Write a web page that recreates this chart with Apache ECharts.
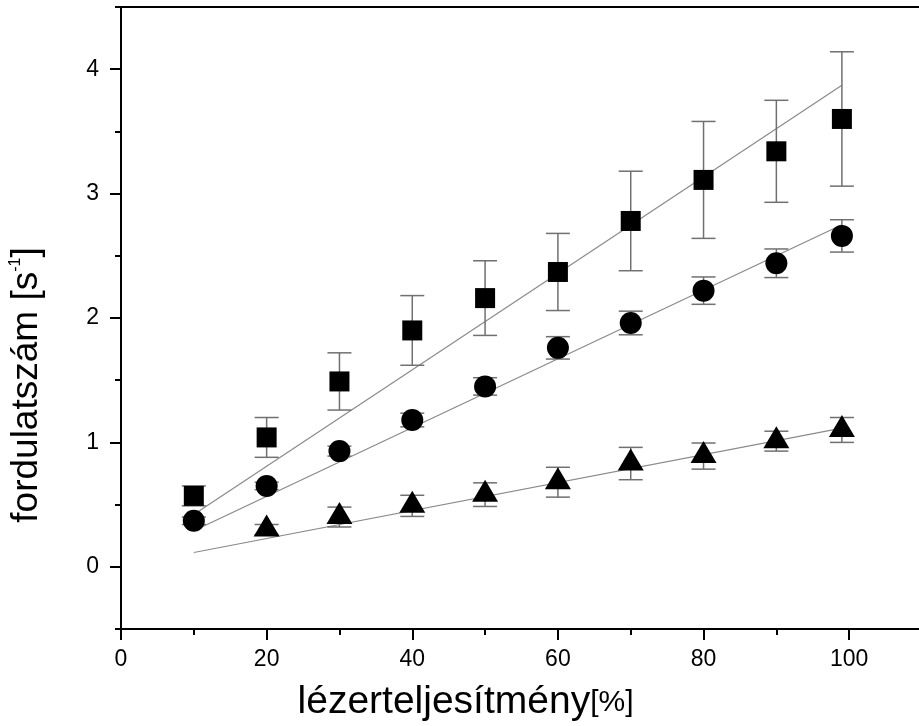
<!DOCTYPE html>
<html>
<head>
<meta charset="utf-8">
<title>fordulatszám</title>
<script src="https://cdn.jsdelivr.net/npm/echarts@6/dist/echarts.min.js"></script>
<style>
  html, body { margin: 0; padding: 0; background: #fff; }
  #chart { width: 919px; height: 726px; }
</style>
</head>
<body>
<div id="chart"></div>
<script>
// lézerteljesítmény értékek
const xs = [10, 20, 30, 40, 50, 60, 70, 80, 90, 99];
const triXs = [20, 30, 40, 50, 60, 70, 80, 90, 99];

// mért értékek (négyzet, kör, háromszög) és hibák
const squares = [0.57, 1.04, 1.49, 1.90, 2.16, 2.37, 2.78, 3.11, 3.34, 3.60];
const squaresErr = [0.08, 0.16, 0.23, 0.28, 0.30, 0.31, 0.40, 0.47, 0.41, 0.54];
const circles = [0.37, 0.65, 0.93, 1.18, 1.45, 1.76, 1.96, 2.22, 2.44, 2.66];
const circlesErr = [0.03, 0.03, 0.04, 0.055, 0.07, 0.09, 0.095, 0.11, 0.115, 0.13];
const triangles = [0.30, 0.40, 0.49, 0.58, 0.68, 0.83, 0.89, 1.01, 1.10];
const trianglesErr = [0.04, 0.08, 0.085, 0.095, 0.12, 0.13, 0.105, 0.08, 0.10];

// illesztett egyenesek végpontjai
const fitXs = [10, 99];
const squareFit = [0.42, 3.87];
const circleFit = [0.29, 2.75];
const triangleFit = [0.115, 1.115];

// tengely feliratok
const yMajor = [0, 1, 2, 3, 4];
const yMinor = [-0.5, 0.5, 1.5, 2.5, 3.5, 4.5];

const font = 'Liberation Sans, Arial, sans-serif';

const pairs = (x, y) => x.map((v, i) => [v, y[i]]);
const errData = (x, y, e) => x.map((v, i) => [v, y[i] - e[i], y[i] + e[i]]);

// hibasáv rajzolása
const renderErr = (params, api) => {
  const x = api.value(0);
  const lo = api.coord([x, api.value(1)]);
  const hi = api.coord([x, api.value(2)]);
  const cap = 12;
  const style = { stroke: '#707070', lineWidth: 1.5 };
  return {
    type: 'group',
    children: [
      { type: 'line', shape: { x1: lo[0], y1: lo[1], x2: hi[0], y2: hi[1] }, style },
      { type: 'line', shape: { x1: lo[0] - cap, y1: lo[1], x2: lo[0] + cap, y2: lo[1] }, style },
      { type: 'line', shape: { x1: hi[0] - cap, y1: hi[1], x2: hi[0] + cap, y2: hi[1] }, style }
    ]
  };
};

const errSeries = (data) => ({
  type: 'custom',
  renderItem: renderErr,
  data: data,
  z: 2,
  silent: true
});

const fitSeries = (data) => ({
  type: 'line',
  data: data,
  symbol: 'none',
  lineStyle: { color: '#8a8a8a', width: 1.2 },
  z: 1,
  silent: true
});

const chart = echarts.init(document.getElementById('chart'));

const option = {
  animation: false,
  grid: { left: 121, top: 7, width: 801, height: 622, containLabel: false, outerBoundsMode: 'none' },
  xAxis: [
    {
      type: 'value',
      min: 0,
      max: 110,
      interval: 20,
      position: 'bottom',
      axisLine: { onZero: false, lineStyle: { color: '#000', width: 2 } },
      axisTick: { length: 11, lineStyle: { color: '#000', width: 2 } },
      minorTick: { show: true, splitNumber: 2, length: 6, lineStyle: { color: '#000', width: 2 } },
      splitLine: { show: false },
      axisLabel: { color: '#000', fontSize: 23, fontFamily: font, margin: 19, showMaxLabel: false },
      name: '{a|lézerteljesítmény}{b|[%]}',
      nameLocation: 'middle',
      nameGap: 54,
      nameTextStyle: {
        padding: [0, 112, 0, 0],
        rich: {
          a: { fontSize: 39, fontFamily: font, color: '#000' },
          b: { fontSize: 30, fontFamily: font, color: '#000' }
        }
      }
    },
    {
      type: 'value',
      min: 0,
      max: 110,
      position: 'top',
      axisLine: { onZero: false, lineStyle: { color: '#000', width: 2 } },
      axisTick: { show: false },
      axisLabel: { show: false },
      splitLine: { show: false }
    }
  ],
  yAxis: [
    {
      type: 'value',
      min: -0.5,
      max: 4.5,
      axisLine: { show: true, onZero: false, lineStyle: { color: '#000', width: 2 } },
      axisTick: { show: true, length: 11, customValues: yMajor, lineStyle: { color: '#000', width: 2 } },
      axisLabel: { color: '#000', fontSize: 23, fontFamily: font, margin: 22, customValues: yMajor },
      splitLine: { show: false },
      name: '{a|fordulatszám [s}{b|-1}{a|]}',
      nameLocation: 'middle',
      nameGap: 76,
      nameTextStyle: {
        padding: [0, 134, 0, 0],
        rich: {
          a: { fontSize: 37, fontFamily: font, color: '#000' },
          b: { fontSize: 16, fontFamily: font, color: '#000', verticalAlign: 'top', padding: [0, 0, 15, 0] }
        }
      }
    },
    {
      type: 'value',
      min: -0.5,
      max: 4.5,
      axisLine: { show: false, onZero: false },
      axisTick: { show: true, length: 6, customValues: yMinor, lineStyle: { color: '#000', width: 2 } },
      axisLabel: { show: false },
      splitLine: { show: false },
      position: 'left'
    }
  ],
  series: [
    fitSeries(pairs(fitXs, squareFit)),
    fitSeries(pairs(fitXs, circleFit)),
    fitSeries(pairs(fitXs, triangleFit)),
    errSeries(errData(xs, squares, squaresErr)),
    errSeries(errData(xs, circles, circlesErr)),
    errSeries(errData(triXs, triangles, trianglesErr)),
    {
      type: 'scatter',
      data: pairs(xs, squares),
      symbol: 'rect',
      symbolSize: 20,
      itemStyle: { color: '#000', opacity: 1 },
      z: 3
    },
    {
      type: 'scatter',
      data: pairs(xs, circles),
      symbol: 'circle',
      symbolSize: 22,
      itemStyle: { color: '#000', opacity: 1 },
      z: 3
    },
    {
      type: 'scatter',
      data: pairs(triXs, triangles),
      symbol: 'triangle',
      symbolSize: [26, 22],
      symbolOffset: [0, -4],
      itemStyle: { color: '#000', opacity: 1 },
      z: 3
    }
  ]
};

chart.setOption(option);
</script>
</body>
</html>
